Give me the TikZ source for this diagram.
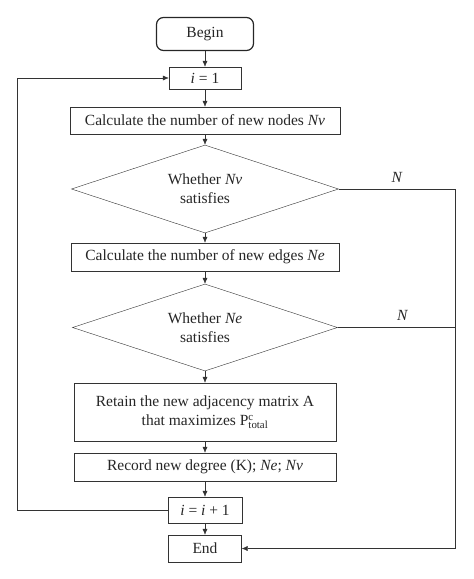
\documentclass[tikz,border=0pt]{standalone}
\usepackage{fontspec}
\setmainfont{Liberation Serif}
\usepackage{amsmath}
\usetikzlibrary{shapes.geometric}
\usetikzlibrary{arrows.meta}
\tikzset{>={Latex[length=6pt,width=5pt]}, line width=1pt}
\tikzset{
  box/.style={rectangle,draw=black!80,text=black!85,inner sep=0pt,align=center,font=\fontsize{15.5}{19}\selectfont},
  startbox/.style={box,rounded corners=7pt,line width=1.2pt,draw=black!85},
  decide/.style={diamond,aspect=3,draw=black!80,text=black!85,inner sep=0pt,align=center,font=\fontsize{15.5}{19}\selectfont},
  flow/.style={->,draw=black!80}
}

\begin{document}
\begin{tikzpicture}[x=1pt,y=-1pt]
  \useasboundingbox (0,0) rectangle (474,579);
  \def\xmid{205}

  % start and counter
  \node[startbox,minimum width=97pt,minimum height=33pt] (begin) at (\xmid,34) {Begin};
  \node[box,minimum width=72pt,minimum height=22pt] (init) at (\xmid,78) {\textit{i} = 1};

  % vertices
  \node[box,minimum width=270pt,minimum height=27pt] (calcv) at (\xmid,120.5) {Calculate the number of new nodes \textit{Nv}};
  \node[decide,minimum width=267pt,minimum height=88pt] (testv) at (\xmid,189) {Whether \textit{Nv}\\satisfies};

  % edges
  \node[box,minimum width=268pt,minimum height=28pt] (calce) at (\xmid,257) {Calculate the number of new edges \textit{Ne}};
  \node[decide,minimum width=265pt,minimum height=87pt] (teste) at (\xmid,327.5) {Whether \textit{Ne}\\satisfies};

  % keep result
  \node[box,minimum width=262pt,minimum height=58pt] (retain) at (\xmid,412) {Retain the new adjacency matrix A\\that maximizes P\rlap{$^{\text{c}}$}$_{\text{total}}$};
  \node[box,minimum width=262pt,minimum height=28pt] (record) at (\xmid,467) {Record new degree (K); \textit{Ne}; \textit{Nv}};

  % next step and end
  \node[box,minimum width=74pt,minimum height=26pt] (incr) at (\xmid,510) {\textit{i} = \textit{i} + 1};
  \node[box,minimum width=73pt,minimum height=27pt] (finish) at (\xmid,548.5) {End};

  \coordinate (backL) at (17,0);
  \coordinate (backR) at (455,0);

  \draw[flow] (begin) -- (init);
  \draw[flow] (init) -- (calcv);
  \draw[flow] (calcv) -- (testv);
  \draw[flow] (testv) -- (calce);
  \draw[flow] (calce) -- (teste);
  \draw[flow] (teste) -- (retain);
  \draw[flow] (retain) -- (record);
  \draw[flow] (record) -- (incr);
  \draw[flow] (incr) -- (finish);

  % loop back
  \draw[flow] (incr.west) -- (incr.west -| backL) |- (init.west);

  % failed tests
  \draw[draw=black!80] (testv.east) -- node[above=3pt,text=black!85,font=\fontsize{15.5}{19}\selectfont\itshape] {N} (testv.east -| backR);
  \draw[draw=black!80] (teste.east) -- node[above=3pt,pos=0.55,text=black!85,font=\fontsize{15.5}{19}\selectfont\itshape] {N} (teste.east -| backR);
  \draw[flow] (testv.east -| backR) |- (finish.east);
\end{tikzpicture}
\end{document}
